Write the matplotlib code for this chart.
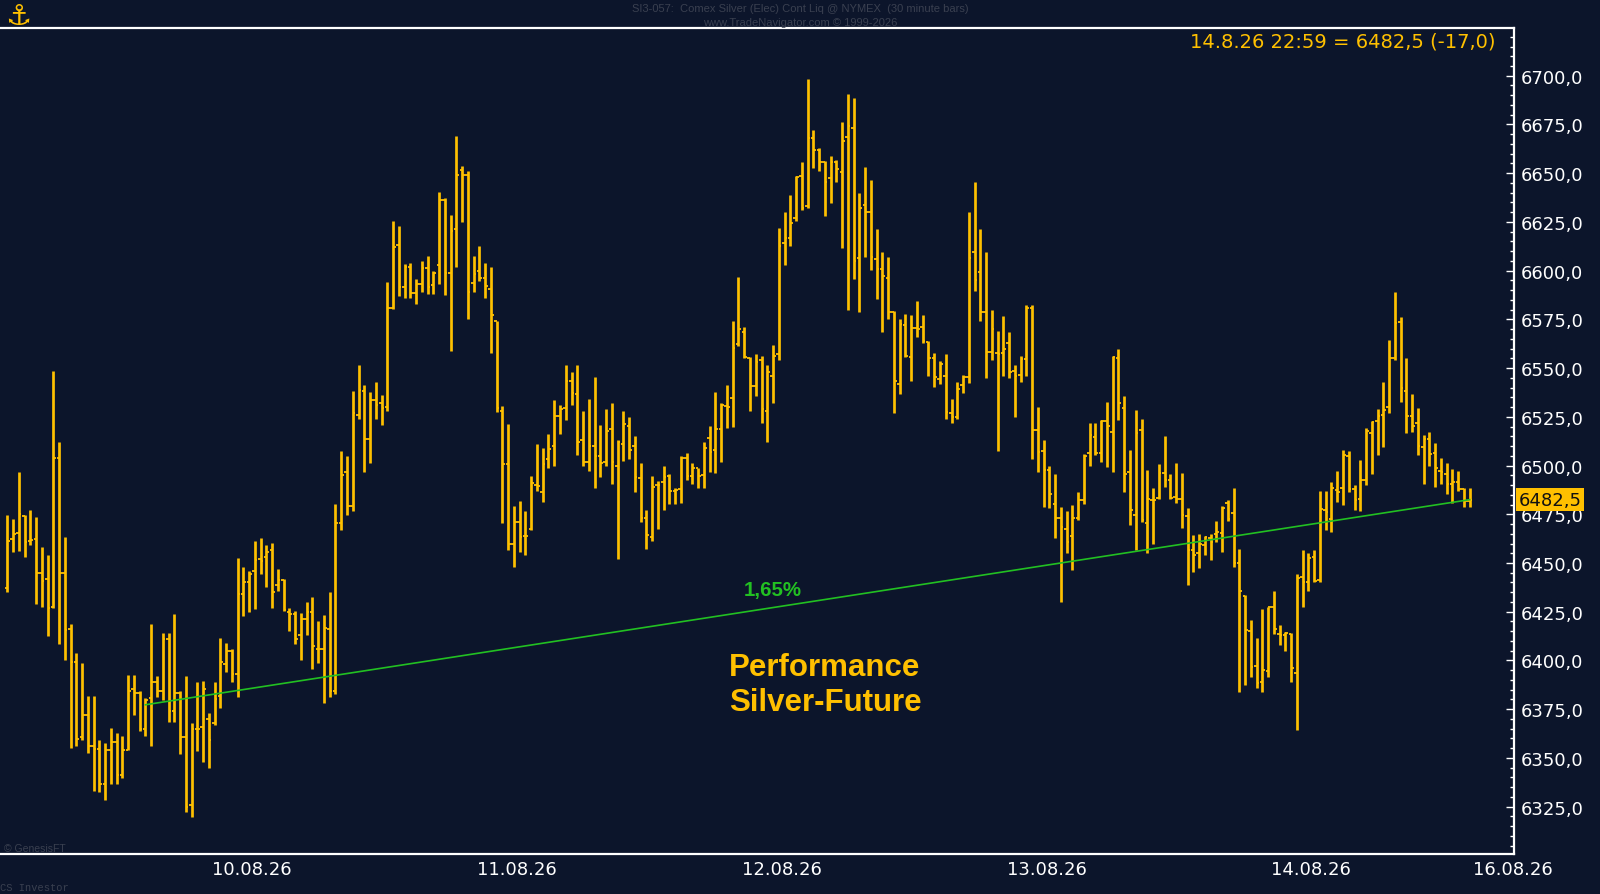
import numpy as np
import matplotlib.pyplot as plt
import matplotlib.transforms as mtransforms
from matplotlib.ticker import FuncFormatter

# Farben
bg = "#0c152b"
gold = "#ffc000"
green = "#22c022"

# 30-Minuten-Bars (Open / High / Low / Close)
opens = [
    6437, 6462.5, 6465.5, 6474, 6461.5, 6462.5, 6445, 6442, 6427.5, 6504,
    6445, 6416, 6399, 6360.5, 6372, 6356, 6354.5, 6336.5, 6354, 6358,
    6341, 6354, 6385.5, 6383.5, 6365, 6380.5, 6389, 6384.5, 6411, 6374,
    6383.5, 6360.5, 6326, 6365, 6366, 6370, 6368, 6382, 6398, 6405,
    6393, 6434, 6440, 6446, 6452, 6453, 6456.5, 6438.5, 6441.5, 6425,
    6424, 6413, 6421.5, 6425, 6406, 6406, 6416, 6384.5, 6470.5, 6496.5,
    6479.5, 6526, 6538, 6513.5, 6533.5, 6532, 6530, 6581, 6613, 6591.5,
    6602, 6588.5, 6593, 6601.5, 6592.5, 6603, 6636.5, 6599, 6621.5, 6651.5,
    6649, 6593.5, 6600, 6596, 6590.5, 6574, 6528, 6501, 6459.5, 6471,
    6464, 6467.5, 6490, 6486.5, 6503.5, 6510, 6525.5, 6529.5, 6543.5, 6536.5,
    6513, 6502, 6510, 6505, 6502, 6519, 6500, 6511, 6520.5, 6510,
    6493.5, 6473, 6463.5, 6490, 6491.5, 6494.5, 6487, 6488, 6504, 6494.5,
    6498.5, 6495, 6514, 6508, 6518.5, 6530.5, 6534.5, 6562.5, 6568.5, 6555,
    6541, 6554, 6528, 6546, 6557, 6614, 6617, 6627, 6648.5, 6633,
    6668, 6662, 6655.5, 6647.5, 6655.5, 6650.5, 6668.5, 6673, 6606.5, 6633.5,
    6630, 6606, 6601, 6596, 6579, 6542, 6572, 6555.5, 6570.5, 6571,
    6563.5, 6555, 6544.5, 6546, 6527, 6525, 6541.5, 6545.5, 6609.5, 6599.5,
    6579, 6558.5, 6558, 6558, 6563, 6548.5, 6546.5, 6554.5, 6581, 6518,
    6507.5, 6497.5, 6480.5, 6473, 6467.5, 6464, 6473, 6482.5, 6506.5, 6514.5,
    6506.5, 6523, 6517, 6555, 6529.5, 6496.5, 6474.5, 6518, 6470.5, 6482.5,
    6483.5, 6496, 6492.5, 6484, 6483, 6474, 6456.5, 6455, 6459, 6463,
    6465, 6465.5, 6481, 6475.5, 6450, 6433, 6415, 6397, 6389, 6394.5,
    6427.5, 6413.5, 6413, 6413.5, 6393.5, 6443, 6440, 6453, 6441.5, 6477,
    6472.5, 6487.5, 6488.5, 6505, 6488, 6483, 6492.5, 6516.5, 6523, 6526,
    6530, 6555, 6573.5, 6538, 6525.5, 6522, 6509.5, 6513.5, 6506.5, 6497,
    6495.5, 6490.5, 6491.5, 6488, 6482,
]
highs = [
    6474.5, 6472.5, 6496.5, 6474.5, 6477, 6473.5, 6458, 6454, 6548.5, 6512,
    6463.5, 6418.5, 6404, 6398.5, 6382, 6382, 6359, 6357.5, 6365.5, 6363,
    6361, 6392.5, 6392.5, 6384.5, 6380.5, 6418.5, 6392, 6414, 6414, 6424,
    6384.5, 6392, 6368, 6389, 6389.5, 6373, 6389, 6411.5, 6409, 6406,
    6452.5, 6448, 6446, 6461.5, 6463, 6459, 6460.5, 6447, 6442, 6427,
    6425.5, 6424.5, 6430, 6432.5, 6420, 6423.5, 6435, 6480.5, 6507.5, 6505,
    6538, 6551.5, 6541.5, 6537.5, 6543, 6536, 6594, 6625.5, 6623, 6603.5,
    6604, 6595.5, 6605, 6607.5, 6600, 6640.5, 6637.5, 6628.5, 6669, 6653.5,
    6651, 6607.5, 6612.5, 6604, 6602, 6574, 6530.5, 6521.5, 6479, 6482,
    6476.5, 6494.5, 6511, 6509, 6516, 6533.5, 6531, 6551.5, 6548, 6551.5,
    6528, 6534, 6545.5, 6521, 6529, 6532, 6513, 6528, 6525, 6515,
    6501.5, 6477, 6494.5, 6492, 6500, 6495.5, 6488.5, 6505, 6506.5, 6501.5,
    6499, 6512, 6520.5, 6537.5, 6532, 6541.5, 6574, 6596.5, 6571, 6555.5,
    6557, 6556, 6551.5, 6562, 6622, 6630, 6639, 6648.5, 6656, 6698.5,
    6672, 6663, 6656.5, 6659, 6657, 6676.5, 6690.5, 6688.5, 6640, 6653,
    6646.5, 6621.5, 6609.5, 6607, 6579.5, 6575, 6578, 6577, 6584.5, 6577,
    6564, 6557.5, 6553.5, 6557, 6534, 6543, 6546.5, 6630, 6645.5, 6621.5,
    6609.5, 6580, 6569, 6576.5, 6568.5, 6551.5, 6556, 6582.5, 6582.5, 6530,
    6513, 6500, 6495.5, 6478.5, 6476.5, 6480, 6486.5, 6506, 6522, 6522,
    6523.5, 6532.5, 6556, 6560, 6535.5, 6508, 6528.5, 6524, 6497.5, 6488.5,
    6501, 6515, 6495.5, 6501.5, 6496, 6478, 6464.5, 6465, 6464, 6465,
    6471.5, 6479, 6482.5, 6488.5, 6457, 6433.5, 6421, 6411.5, 6426.5, 6427.5,
    6435.5, 6418, 6414.5, 6414, 6444.5, 6456.5, 6455, 6456.5, 6487, 6487,
    6491.5, 6497, 6508, 6507.5, 6490, 6503, 6519.5, 6523, 6529, 6543,
    6564.5, 6589, 6576, 6555, 6536.5, 6529.5, 6515.5, 6517, 6511.5, 6504,
    6501.5, 6498, 6497, 6488.5, 6488.5,
]
lows = [
    6435, 6455.5, 6456, 6453, 6459, 6429, 6427.5, 6412.5, 6427, 6408.5,
    6400, 6355, 6356, 6359, 6352.5, 6333, 6332.5, 6328.5, 6336.5, 6336.5,
    6339.5, 6354, 6372, 6364, 6361, 6356, 6381, 6379.5, 6368.5, 6368.5,
    6352, 6322, 6319.5, 6353.5, 6348, 6345, 6367, 6375.5, 6394, 6389,
    6381, 6423, 6425, 6426.5, 6444.5, 6437.5, 6427, 6435.5, 6425.5, 6415,
    6408.5, 6400, 6413, 6395.5, 6398.5, 6378, 6381.5, 6383, 6467, 6474.5,
    6476.5, 6524, 6496.5, 6501.5, 6524, 6521, 6528, 6580.5, 6587, 6586,
    6586, 6583, 6589, 6588, 6588, 6593, 6587.5, 6559, 6602, 6625,
    6575, 6589, 6594.5, 6586, 6558, 6527.5, 6470.5, 6456.5, 6448, 6455.5,
    6454, 6467, 6487, 6481.5, 6499, 6500, 6516, 6523.5, 6531, 6505.5,
    6500, 6497, 6488.5, 6494, 6500, 6490.5, 6452, 6502.5, 6503.5, 6486.5,
    6471, 6457, 6461.5, 6467.5, 6477, 6480.5, 6480.5, 6481, 6492.5, 6490.5,
    6488.5, 6488.5, 6496.5, 6496, 6502, 6519.5, 6520, 6561.5, 6555, 6528,
    6535.5, 6522, 6512, 6532, 6554, 6603, 6612.5, 6625.5, 6631, 6632,
    6652.5, 6651, 6628, 6634.5, 6645.5, 6611.5, 6580, 6595.5, 6579, 6607,
    6600.5, 6585.5, 6568.5, 6575, 6527, 6536.5, 6555.5, 6543.5, 6566, 6563,
    6546, 6540.5, 6542, 6524, 6522, 6524, 6537, 6542.5, 6589.5, 6574,
    6545, 6554, 6507.5, 6546, 6545, 6525, 6543, 6546, 6503.5, 6496.5,
    6478.5, 6478, 6463, 6430, 6455, 6446.5, 6472, 6480.5, 6500, 6505.5,
    6502, 6499.5, 6496.5, 6523.5, 6486.5, 6469.5, 6456.5, 6471, 6455, 6460,
    6483, 6489, 6483, 6481, 6468, 6438.5, 6445.5, 6447.5, 6454, 6451.5,
    6461, 6455.5, 6471.5, 6448, 6384, 6387.5, 6391.5, 6386, 6384, 6391.5,
    6413.5, 6408, 6405, 6389, 6364.5, 6427.5, 6435.5, 6440.5, 6440, 6467,
    6466, 6481.5, 6480, 6486.5, 6477, 6476.5, 6490, 6495.5, 6505.5, 6509.5,
    6527, 6554, 6532.5, 6516.5, 6517, 6505.5, 6490.5, 6500, 6489, 6490.5,
    6485.5, 6481, 6487, 6478.5, 6478.5,
]
closes = [
    6461.5, 6465, 6475, 6461, 6462, 6445, 6441, 6427, 6504, 6445,
    6415.5, 6399, 6359.5, 6372, 6356, 6354.5, 6336.5, 6354, 6358, 6341,
    6354, 6384.5, 6383.5, 6365, 6379.5, 6389, 6384.5, 6411, 6374, 6383.5,
    6360.5, 6325, 6365, 6365, 6385.5, 6359, 6380, 6399, 6405, 6393,
    6434, 6440, 6444.5, 6451.5, 6451, 6455.5, 6435, 6441.5, 6426, 6424,
    6411, 6421.5, 6425, 6407.5, 6406, 6416.5, 6384.5, 6470.5, 6495, 6479.5,
    6527, 6539, 6513.5, 6533.5, 6531, 6529.5, 6581, 6612, 6591.5, 6602,
    6588.5, 6593, 6601.5, 6591.5, 6599, 6636.5, 6599, 6620.5, 6649, 6649,
    6589, 6598.5, 6596, 6592, 6577, 6529.5, 6501, 6459.5, 6471, 6463.5,
    6464, 6491, 6489.5, 6501, 6508.5, 6525.5, 6529, 6543.5, 6537, 6512,
    6502, 6510, 6505, 6501.5, 6517.5, 6502, 6512, 6521.5, 6508, 6494,
    6473, 6464.5, 6489, 6490, 6494, 6487, 6487.5, 6504, 6494.5, 6498.5,
    6494.5, 6509, 6507, 6518.5, 6531, 6530, 6560.5, 6570, 6555.5, 6541,
    6553, 6529, 6548, 6556, 6612.5, 6617, 6624.5, 6648, 6632, 6668,
    6662, 6656, 6645.5, 6655.5, 6652, 6666.5, 6674, 6605, 6632, 6630,
    6607, 6601, 6597.5, 6579, 6543.5, 6572.5, 6556, 6570.5, 6570, 6564,
    6555, 6545.5, 6552, 6527.5, 6525, 6539.5, 6545.5, 6606.5, 6595, 6579,
    6558.5, 6570, 6557, 6560, 6548, 6546, 6554.5, 6581, 6518, 6507,
    6497.5, 6485.5, 6473, 6468.5, 6461, 6473, 6482.5, 6505, 6515.5, 6506.5,
    6523, 6520.5, 6555.5, 6532, 6495.5, 6477, 6516.5, 6472, 6483, 6482.5,
    6496, 6492.5, 6483.5, 6483, 6474.5, 6456.5, 6454, 6460, 6463.5, 6461,
    6466, 6478, 6472.5, 6450, 6435.5, 6415.5, 6396.5, 6388.5, 6395, 6427.5,
    6416, 6413, 6414, 6396, 6442.5, 6440, 6452.5, 6441, 6477.5, 6476,
    6488.5, 6486.5, 6505.5, 6488, 6482.5, 6492.5, 6517.5, 6522.5, 6525.5, 6528.5,
    6555, 6573, 6540, 6525.5, 6520.5, 6510, 6513.5, 6506, 6498.5, 6496.5,
    6490.5, 6491.5, 6488, 6482, 6482.5,
]
assert len(opens) == len(highs) == len(lows) == len(closes), (len(opens), len(highs), len(lows), len(closes))

# Datumsachse (Position in Bars, je 46 Bars pro Handelstag)
day_pos = [42.5, 88.5, 134.5, 180.5, 226.5, 261.5]
day_labels = ["10.08.26", "11.08.26", "12.08.26", "13.08.26", "14.08.26", "16.08.26"]

# Performance-Linie
trend_start_bar = 24
perf_pct = 1.65
last_stamp = "14.8.26 22:59"
change = -17.0

x = np.arange(len(closes))
o = np.array(opens)
h = np.array(highs)
l = np.array(lows)
c = np.array(closes)

fig = plt.figure(figsize=(16, 8.95), dpi=100, facecolor=bg)
ax = fig.add_axes([0.0, 0.0447, 0.94625, 0.9229], facecolor=bg)

# OHLC-Bars
ax.vlines(x, l, h, color=gold, lw=1.95, zorder=3)
ax.hlines(o, x - 0.45, x, color=gold, lw=1.3, zorder=3)
ax.hlines(c, x, x + 0.45, color=gold, lw=1.3, zorder=3)

# Trendlinie vom Startpunkt bis zum letzten Kurs
last = c[-1]
start_val = last / (1 + perf_pct / 100)
ax.plot([trend_start_bar, x[-1]], [start_val, last], color=green, lw=1.2, zorder=4)

ax.text(132.9, 6436.6, f"{perf_pct:.2f}%".replace(".", ","), color=green,
        fontsize=14.8, fontweight="bold", family="Liberation Sans",
        ha="center", va="center")
ax.text(141.9, 6387.5, "Performance\nSilver-Future", color=gold,
        fontsize=22.5, fontweight="bold", family="Liberation Sans",
        ha="left", va="center", linespacing=1.22,
        transform=mtransforms.offset_copy(ax.transData, fig=fig, x=-95, y=0, units="dots"))

# Achsen
ax.set_xlim(-1.27, 261.7)
ax.set_ylim(6300.7, 6724.5)

ax.yaxis.tick_right()
ax.set_yticks(np.arange(6325, 6701, 25))
ax.set_yticks(np.arange(6305, 6725, 5), minor=True)
ax.yaxis.set_major_formatter(FuncFormatter(lambda v, p: f"{v:.1f}".replace(".", ",")))
ax.tick_params(axis="y", which="major", direction="in", length=6, width=1,
               colors="white", labelsize=13, pad=5)
ax.tick_params(axis="y", which="minor", direction="in", length=3, width=1, colors="white")

ax.set_xticks(day_pos)
ax.set_xticklabels(day_labels)
ax.tick_params(axis="x", length=0, colors="white", labelsize=13, pad=4)

for side in ["top", "bottom", "right"]:
    ax.spines[side].set_color("white")
    ax.spines[side].set_linewidth(1.6)
ax.spines["left"].set_visible(False)

# Kursbox rechts
trans = mtransforms.blended_transform_factory(ax.transAxes, ax.transData)
ax.text(1.003, last, f"{last:.1f}".replace(".", ","), transform=trans,
        ha="left", va="center", fontsize=13, color="#111111",
        bbox=dict(boxstyle="square,pad=0.12", fc=gold, ec="none"),
        clip_on=False, zorder=6)

# Letzter Kurs oben rechts
info = f"{last_stamp} = {last:.1f} ({change:.1f})".replace(".", ",").replace("14,8,26", "14.8.26")
ax.text(0.9875, 0.9846, info, transform=ax.transAxes, ha="right", va="center",
        fontsize=14, color=gold)

# Kopfzeile und Quellen
fig.text(0.5, 1 - 9.5 / 895, "SI3-057:  Comex Silver (Elec) Cont Liq @ NYMEX  (30 minute bars)",
         ha="center", va="center", fontsize=8, color="#3a4050", family="Liberation Sans")
fig.text(0.5, 1 - 23 / 895, "www.TradeNavigator.com \u00a9 1999-2026",
         ha="center", va="center", fontsize=8, color="#3a4050", family="Liberation Sans")
fig.text(18 / 1600, 1 - 17 / 895, "\u2693", ha="center", va="center", fontsize=21, color=gold)
fig.text(4 / 1600, (895 - 849) / 895, "\u00a9 GenesisFT", ha="left", va="center",
         fontsize=7.5, color="#3a4050", family="Liberation Sans")
fig.text(0.0, (895 - 888) / 895, "CS Investor", ha="left", va="center",
         fontsize=7.5, color="#3a4050", family="Liberation Mono")

fig.savefig("out.png", dpi=100, facecolor=bg)
